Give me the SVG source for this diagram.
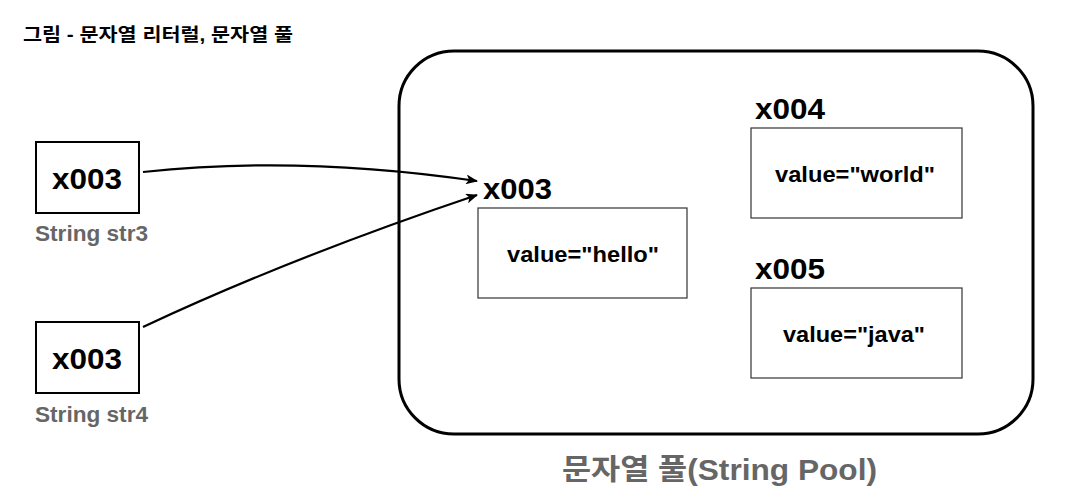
<svg xmlns="http://www.w3.org/2000/svg" width="1077" height="494" viewBox="0 0 1077 494">
  <style>
    .bg { fill: #ffffff; }
    .addr { font-family: "Liberation Sans", Arial, sans-serif; font-weight: bold; font-size: 29px; fill: #000; }
    .val { font-family: "Liberation Sans", Arial, sans-serif; font-weight: bold; font-size: 22px; fill: #000; text-anchor: middle; }
    .var { font-family: "Liberation Sans", Arial, sans-serif; font-weight: bold; font-size: 22px; fill: #666; }
    .title { font-family: "Liberation Sans", "Noto Sans CJK KR", sans-serif; font-weight: bold; font-size: 18px; fill: #000; }
    .pool-label { font-family: "Liberation Sans", "Noto Sans CJK KR", sans-serif; font-weight: bold; font-size: 29px; fill: #666; }
    .refbox { fill: #fff; stroke: #000; stroke-width: 2; }
    .objbox { fill: #fff; stroke: #333; stroke-width: 1.2; }
    .pool { fill: none; stroke: #000; stroke-width: 3; }
    .conn { fill: none; stroke: #000; stroke-width: 2.2; }
  </style>
  <defs>
    <marker id="arrow" viewBox="0 0 12 10" refX="11" refY="5" markerWidth="12" markerHeight="10" markerUnits="userSpaceOnUse" orient="auto">
      <path d="M0,0 L12,5 L0,10 L3,5 z" fill="#000"/>
    </marker>
  </defs>
  <rect class="bg" x="0" y="0" width="1077" height="494"/>

  <g id="title">
    <text class="title" x="23" y="41" textLength="270" lengthAdjust="spacingAndGlyphs">그림 - 문자열 리터럴, 문자열 풀</text>
  </g>

  <g id="string-pool">
    <rect class="pool" x="399" y="51" width="634" height="383" rx="55" ry="55"/>
    <text class="pool-label" x="562" y="480" textLength="315" lengthAdjust="spacingAndGlyphs">문자열 풀(String Pool)</text>
  </g>

  <g id="str3">
    <rect class="refbox" x="36" y="142" width="103" height="71"/>
    <text class="addr" x="52" y="189" textLength="70" lengthAdjust="spacingAndGlyphs">x003</text>
    <text class="var" x="35" y="241" textLength="113" lengthAdjust="spacingAndGlyphs">String str3</text>
  </g>

  <g id="str4">
    <rect class="refbox" x="36" y="322" width="103" height="71"/>
    <text class="addr" x="52" y="369" textLength="70" lengthAdjust="spacingAndGlyphs">x003</text>
    <text class="var" x="35" y="422" textLength="113" lengthAdjust="spacingAndGlyphs">String str4</text>
  </g>

  <g id="obj-x003">
    <text class="addr" x="483" y="199" textLength="69" lengthAdjust="spacingAndGlyphs">x003</text>
    <rect class="objbox" x="478" y="208" width="209" height="90"/>
    <text class="val" x="583" y="262" textLength="152" lengthAdjust="spacingAndGlyphs">value="hello"</text>
  </g>

  <g id="obj-x004">
    <text class="addr" x="755" y="119" textLength="70" lengthAdjust="spacingAndGlyphs">x004</text>
    <rect class="objbox" x="751" y="128" width="211" height="90"/>
    <text class="val" x="855" y="182" textLength="160" lengthAdjust="spacingAndGlyphs">value="world"</text>
  </g>

  <g id="obj-x005">
    <text class="addr" x="755" y="279" textLength="70" lengthAdjust="spacingAndGlyphs">x005</text>
    <rect class="objbox" x="751" y="288" width="211" height="90"/>
    <text class="val" x="854" y="342" textLength="142" lengthAdjust="spacingAndGlyphs">value="java"</text>
  </g>

  <g id="connectors">
    <path class="conn" d="M143,172 Q300,155 477,181" marker-end="url(#arrow)"/>
    <path class="conn" d="M143,327 Q290,258 477,195" marker-end="url(#arrow)"/>
  </g>
</svg>
